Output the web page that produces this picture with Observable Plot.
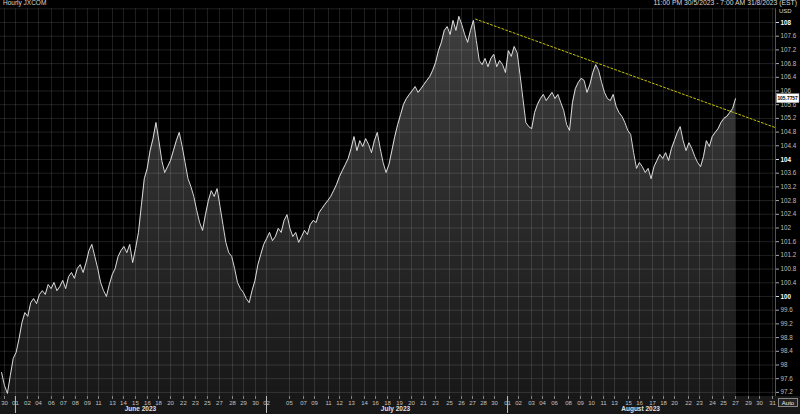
<!DOCTYPE html>
<html><head><meta charset="utf-8">
<script src="https://cdn.jsdelivr.net/npm/d3@7"></script>
<script src="https://cdn.jsdelivr.net/npm/@observablehq/plot@0.6"></script>
<style>
html,body{margin:0;padding:0;background:#000;}
#wrap{position:relative;width:800px;height:414px;overflow:hidden;font-family:"Liberation Sans",Arial,sans-serif;
  background:linear-gradient(to bottom,#000 0,#000 396px,#181818 396px,#181818 414px);}
#wrap svg{position:absolute;left:0;top:0;}
.hdr{position:absolute;top:0;font-size:6.5px;color:#d8d8d8;line-height:7px;white-space:nowrap;z-index:2;}
#auto{position:absolute;left:778px;top:398px;width:20px;height:9px;border:1px solid #888;background:#222;color:#eee;font-size:6px;line-height:8px;text-align:center;z-index:2;box-sizing:border-box;}
</style></head><body>
<div id="wrap">
  <div class="hdr" style="left:3px;top:-1px">Hourly JXCOM</div>
  <div class="hdr" style="right:3px;top:-1px;font-size:6.8px">11:00 PM 30/5/2023 - 7:00 AM 31/8/2023 (EST)</div>
  <div class="hdr" style="left:779px;top:8px;font-size:6px;line-height:6px">USD</div>
  <div id="auto">Auto</div>
</div>
<script>
// ---- data ----
// series: price every 6 trading hours (0.25 trading day), starting at day -0.25
const seriesStartDay = -0.25;
const seriesStepDays = 0.25;
const values = [97.78,97.40,97.17,97.69,98.19,98.37,98.77,99.24,99.53,99.42,
99.82,99.94,99.79,100.06,100.17,100.06,100.35,100.23,100.41,100.17,
100.29,100.47,100.23,100.58,100.70,100.53,100.82,100.93,100.70,100.99,
101.34,101.52,101.17,100.82,100.41,100.17,100.00,100.35,100.64,100.82,
101.17,101.34,101.46,101.28,101.52,100.99,101.40,101.87,102.66,103.44,
103.74,104.26,104.61,105.08,104.55,103.97,103.62,103.79,103.97,104.26,
104.55,104.79,104.38,103.91,103.44,103.21,102.92,102.51,102.16,101.93,
102.39,102.80,103.09,102.92,103.15,102.63,102.10,101.58,101.28,101.17,
100.82,100.41,100.23,100.12,99.94,99.82,100.17,100.47,100.93,101.23,
101.52,101.69,101.87,101.63,101.75,101.99,101.87,102.22,102.39,101.99,
101.75,101.87,101.58,101.75,101.93,101.81,102.10,102.22,102.16,102.45,
102.57,102.69,102.80,102.92,103.09,103.27,103.50,103.68,103.85,104.03,
104.32,104.67,104.26,104.55,104.38,104.61,104.44,104.20,104.55,104.79,
104.32,103.91,103.62,103.85,104.26,104.67,105.02,105.31,105.61,105.78,
105.90,106.01,106.13,105.96,106.07,106.19,106.31,106.42,106.60,106.83,
107.18,107.42,107.77,107.88,107.65,108.06,107.77,108.18,107.94,107.65,
107.42,107.77,108.06,107.47,106.89,106.77,106.95,106.71,106.95,107.07,
106.71,106.89,106.77,106.54,107.18,107.01,107.30,107.12,106.48,105.78,
105.08,104.96,104.90,105.37,105.61,105.78,105.90,105.72,105.84,105.96,
105.78,105.90,105.66,105.43,105.02,104.85,105.66,106.07,106.25,106.37,
106.31,105.96,106.19,106.54,106.77,106.60,106.25,105.96,105.78,105.72,
105.90,105.55,105.37,105.26,105.08,104.85,104.73,104.20,103.74,103.91,
103.79,103.62,103.74,103.44,103.79,103.97,104.15,104.03,104.20,103.97,
104.32,104.55,104.79,104.96,104.55,104.26,104.49,104.32,104.09,103.91,
103.79,104.09,104.55,104.38,104.67,104.79,104.90,105.08,105.20,105.26,
105.37,105.49,105.7757];

const xTickDays = [0,0.94,1.97,2.92,4.03,5.06,6.09,7.12,8.07,9.27,10.21,11.24,12.27,13.22,14.25,15.36,16.39,17.42,18.45,19.57,20.52,21.55,
22.49,24.46,25.67,26.61,27.81,28.76,29.79,30.90,31.85,32.88,33.91,34.94,35.97,37.00,38.20,39.23,40.17,41.12,42.06,
43.18,44.12,45.24,46.18,47.21,48.41,49.44,50.39,51.42,52.36,53.56,54.51,55.62,56.57,57.51,58.71,59.66,60.77,61.72,62.75,63.86,64.81,65.92];
const xTickLabels = ["30","01","02","04","06","07","08","09","11","13","14","15","16","18","20","22","23","25","27","28","29","30",
"02","05","07","09","11","12","13","14","16","18","19","20","21","23","25","26","27","28","30",
"01","02","03","04","06","08","09","10","11","13","15","16","17","18","20","22","23","24","25","27","29","30","31"];

const monthLabels = ["June 2023","July 2023","August 2023"];
const monthLabelDays = [11.67, 33.56, 54.6];
const monthStartDays = [0.94, 22.49, 43.18];

const yTicksMajor = [100, 104, 108];
const yTicksMinor = [97.2,97.6,98,98.4,98.8,99.2,99.6,100.4,100.8,101.2,101.6,102,102.4,102.8,103.2,103.6,104.4,104.8,105.2,105.6,106,106.4,106.8,107.2,107.6];
const yGrid = [97.2,97.6,98,98.4,98.8,99.2,99.6,100,100.4,100.8,101.2,101.6,102,102.4,102.8,103.2,103.6,104,104.4,104.8,105.2,105.6,106,106.4,106.8,107.2,107.6,108,108.4];

const trendDays = [40.43, 66.18];
const trendValues = [108.1, 104.93];

const xDomain = [-0.343, 66.18];
const yDomain = [97.08, 108.4];

// ---- build ----
const series = values.map((v, i) => ({t: seriesStartDay + i * seriesStepDays, v}));
const trend = trendDays.map((t, i) => ({t, v: trendValues[i]}));
const labelOf = new Map(xTickDays.map((d, i) => [d, xTickLabels[i]]));
const months = monthLabels.map((label, i) => ({t: monthLabelDays[i], label}));
const last = series[series.length - 1];

const chart = Plot.plot({
  width: 800, height: 414,
  marginTop: 8.3, marginBottom: 18, marginLeft: 0, marginRight: 25,
  style: {background: "transparent", color: "#c8c8c8", fontFamily: "'Liberation Sans', Arial, sans-serif", fontSize: "6.5px"},
  x: {domain: xDomain, axis: null, label: null},
  y: {domain: yDomain, axis: null, label: null},
  marks: [
    Plot.areaY(series, {x: "t", y1: yDomain[0], y2: "v", fill: "url(#areaGrad)"}),
    Plot.ruleX(xTickDays, {stroke: "#ffffff", strokeOpacity: 0.12}),
    Plot.ruleY(yGrid, {stroke: "#ffffff", strokeOpacity: 0.12}),
    Plot.lineY(series, {x: "t", y: "v", stroke: "#eeeeee", strokeWidth: 0.9}),
    Plot.line(trend, {x: "t", y: "v", stroke: "#c8c400", strokeWidth: 1, strokeDasharray: "2,2"}),
    Plot.ruleX([xDomain[1]], {stroke: "#555"}),
    Plot.axisX(xTickDays, {anchor: "bottom", label: null, tickSize: 3, tickPadding: 1, stroke: "#888", fill: "#c0c0c0", fontSize: 6, tickFormat: d => labelOf.get(d)}),
    Plot.axisX(monthStartDays, {anchor: "bottom", label: null, tickSize: 17, stroke: "#bbb", tickFormat: () => ""}),
    Plot.text(months, {x: "t", text: "label", frameAnchor: "bottom", dy: 14, fill: "#e0e0e0", fontWeight: "bold", fontSize: 6.5}),
    Plot.axisY(yTicksMinor, {anchor: "right", label: null, tickSize: 3, tickPadding: 2, stroke: "#aaa", fill: "#bdbdbd", fontSize: 6.3, tickFormat: d => String(d)}),
    Plot.axisY(yTicksMajor, {anchor: "right", label: null, tickSize: 3, tickPadding: 2, stroke: "#ddd", fill: "#ffffff", fontSize: 6.3, fontWeight: "bold", tickFormat: d => String(d)})
  ]
});

const svg = d3.select(chart);
svg.insert("defs", ":first-child").html(
  '<linearGradient id="areaGrad" gradientUnits="userSpaceOnUse" x1="0" y1="10" x2="0" y2="396">' +
  '<stop offset="0" stop-color="#3e3e3e"/><stop offset="1" stop-color="#181818"/></linearGradient>');

// last-price tag on the right axis
const yPos = chart.scale("y").apply(last.v);
const tag = svg.append("g").attr("text-anchor", "start");
tag.append("rect").attr("x", 776.5).attr("y", yPos - 4.5).attr("width", 22.5).attr("height", 9)
  .attr("fill", "#ffffff").attr("stroke", "#999").attr("stroke-width", 0.5);
tag.append("text").attr("x", 777.4).attr("y", yPos + 2).attr("text-anchor", "start")
  .attr("font-size", 4.9).attr("font-weight", "bold").attr("fill", "#000")
  .attr("font-family", "'Liberation Sans', Arial, sans-serif").text(last.v.toFixed(4));

document.getElementById("wrap").insertBefore(chart, document.getElementById("wrap").firstChild);
</script>
</body></html>
